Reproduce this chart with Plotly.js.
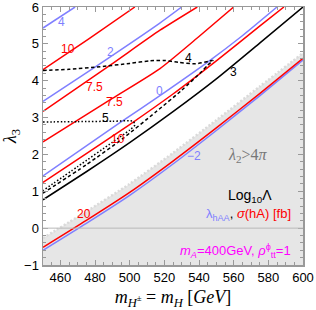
<!DOCTYPE html>
<html><head><meta charset="utf-8">
<script src="https://cdn.plot.ly/plotly-3.0.1.min.js"></script>
<style>html,body{margin:0;padding:0;background:#fff}#c{width:316px;height:310px}</style>
</head><body><div id="c"></div>
<script>
// ---- data ----
const blue4X = [450, 468.5];
const blue4Y = [5.43, 6.0];
const red10aX = [450, 476, 503];
const red10aY = [4.30, 5.12, 6.0];
const blue2X = [450, 480, 517, 530];
const blue2Y = [3.44, 4.37, 5.55, 6.0];
const red75aX = [450, 489, 517.5, 539];
const red75aY = [3.17, 4.43, 5.37, 6.0];
const red75bX = [450, 490, 517.5, 540, 560];
const red75bY = [2.34, 3.52, 4.33, 5.20, 6.0];
const blue0X = [450, 494.4, 520, 545.4, 565, 585];
const blue0Y = [1.42, 2.86, 3.68, 4.52, 5.22, 6.0];
const red10bX = [450, 475, 500, 525, 550, 575, 589];
const red10bY = [1.24, 2.02, 2.81, 3.64, 4.54, 5.48, 6.0];
const black3X = [450, 475, 500, 525, 550, 575, 600];
const black3Y = [0.77, 1.53, 2.32, 3.16, 4.05, 5.02, 6.0];
const dash4X = [450, 465, 483, 500, 512, 520, 528, 538, 546, 548, 545, 541.6, 530, 515, 496, 475, 450];
const dash4Y = [4.28, 4.31, 4.38, 4.47, 4.54, 4.55, 4.50, 4.46, 4.53, 4.55, 4.42, 4.25, 3.74, 3.15, 2.43, 1.72, 0.95];
const dot5X = [450, 470, 490, 502, 503, 500, 490, 470, 450];
const dot5Y = [2.88, 2.89, 2.90, 2.90, 2.80, 2.66, 2.33, 1.67, 1.02];
const red20X = [450, 475, 500, 525, 550, 575, 600];
const red20Y = [-0.52, 0.21, 0.97, 1.82, 2.72, 3.65, 4.61];
const blueM2X = [450, 475, 500, 525, 550, 575, 600];
const blueM2Y = [-0.60, 0.13, 0.89, 1.74, 2.65, 3.59, 4.56];
const regionX = [450, 475, 500, 525, 550, 575, 600];
const regionY = [-0.27, 0.45, 1.20, 2.04, 2.93, 3.84, 4.75];

const labelText = ['4', '10', '2', '7.5', '7.5', '5', '10', '0', '4', '3', '20', '\u22122'];
const labelX = [460.5, 464.5, 489, 479.5, 491.5, 485.8, 493.5, 517.3, 533.9, 559.8, 473.8, 537];
const labelY = [5.60, 4.86, 4.79, 3.82, 3.42, 2.99, 2.41, 3.73, 4.61, 4.25, 0.39, 1.96];
const labelColor = ['#7f7fff', '#ff0000', '#7f7fff', '#ff0000', '#ff0000', '#000', '#ff0000', '#7f7fff', '#000', '#000', '#ff0000', '#7f7fff'];

const BLUE = '#7f7fff', RED = '#ff0000';
function line(x, y, color, dash) {
  return {x: x, y: y, type: 'scatter', mode: 'lines', hoverinfo: 'skip',
          line: {color: color, width: 1.5, dash: dash || 'solid', shape: 'spline', smoothing: 0.6}};
}
const yBottom = -1;
const fillX = regionX.concat([regionX[regionX.length - 1], regionX[0]]);
const fillY = regionY.concat([yBottom, yBottom]);

const traces = [
  {x: fillX, y: fillY, type: 'scatter', mode: 'lines', fill: 'toself', fillcolor: '#e6e6e6',
   line: {width: 0, color: '#e6e6e6'}, hoverinfo: 'skip'},
  {x: regionX, y: regionY, type: 'scatter', mode: 'lines', hoverinfo: 'skip',
   line: {color: '#dadada', width: 2.5, dash: '2px,2px', shape: 'spline', smoothing: 0.6}},
  line(blue4X, blue4Y, BLUE),
  line(red10aX, red10aY, RED),
  line(blue2X, blue2Y, BLUE),
  line(red75aX, red75aY, RED),
  line(red75bX, red75bY, RED),
  line(blue0X, blue0Y, BLUE),
  line(red10bX, red10bY, RED),
  line(black3X, black3Y, '#000'),
  line(dash4X, dash4Y, '#000', '3.5px,2.5px'),
  line(dot5X, dot5Y, '#000', '1.5px,2px'),
  line(blueM2X, blueM2Y, BLUE),
  line(red20X, red20Y, RED)
];

const annotations = labelText.map((t, i) => ({
  x: labelX[i], y: labelY[i], xref: 'x', yref: 'y', text: t, showarrow: false,
  font: {family: 'Liberation Sans, Arial, sans-serif', size: 12, color: labelColor[i]}
}));
annotations.push(
  {x: 568, y: 1.96, xref: 'x', yref: 'y', showarrow: false, text: '<i>λ</i><sub>2</sub>&gt;4<i>π</i>',
   font: {family: 'Liberation Serif, Times New Roman, serif', size: 16, color: '#777777'}},
  {x: 569.4, y: 0.86, xref: 'x', yref: 'y', showarrow: false, text: 'Log<sub>10</sub>Λ',
   font: {family: 'Liberation Sans, Arial, sans-serif', size: 14, color: '#000'}},
  {x: 594.5, y: 0.38, xref: 'x', yref: 'y', xanchor: 'right', showarrow: false,
   text: '<span style="color:#7f7fff">λ<sub>hAA</sub></span>, <span style="color:#ff0000"><i>σ</i>(hA) [fb]</span>',
   font: {family: 'Liberation Sans, Arial, sans-serif', size: 13, color: '#000'}},
  {x: 594.5, y: -0.62, xref: 'x', yref: 'y', xanchor: 'right', showarrow: false,
   text: '<i>m<sub>A</sub></i>=400GeV, <i>ρ</i><sup>ϕ</sup><sub>tt</sub>=1',
   font: {family: 'Liberation Sans, Arial, sans-serif', size: 13, color: '#ff00ff'}}
);

const axisCommon = {
  ticks: 'inside', ticklen: 5, tickcolor: '#999', tickwidth: 1,
  showline: true, linecolor: '#999', linewidth: 1.5, mirror: 'allticks',
  showgrid: false, zeroline: false, ticklabeloverflow: 'allow',
  tickfont: {family: 'Liberation Sans, Arial, sans-serif', size: 13, color: '#000'}
};

const layout = {
  width: 316, height: 310,
  margin: {l: 43, r: 13, t: 7, b: 45},
  paper_bgcolor: '#fff', plot_bgcolor: '#fff',
  showlegend: false,
  xaxis: Object.assign({}, axisCommon, {
    range: [450, 600], dtick: 20, tick0: 0,
    minor: {dtick: 5, ticks: 'inside', ticklen: 3, tickcolor: '#999'},
    title: {text: '<i>m</i><sub><i>H</i><sup>±</sup></sub> = <i>m<sub>H</sub></i> [<i>GeV</i>]', standoff: 6,
            font: {family: 'Liberation Serif, Times New Roman, serif', size: 18, color: '#000'}}
  }),
  yaxis: Object.assign({}, axisCommon, {
    range: [-1, 6], dtick: 1, tick0: 0,
    minor: {dtick: 0.2, ticks: 'inside', ticklen: 3, tickcolor: '#999'},
    title: {text: '<i>λ</i><sub>3</sub>', standoff: 16,
            font: {family: 'Liberation Serif, Times New Roman, serif', size: 18, color: '#000'}}
  }),
  shapes: [{type: 'line', xref: 'paper', x0: 0, x1: 1, yref: 'y', y0: 0, y1: 0,
            line: {color: '#b8b8b8', width: 1}, layer: 'above'}],
  annotations: annotations
};

Plotly.newPlot('c', traces, layout, {staticPlot: true, displayModeBar: false});
</script>
</body></html>
